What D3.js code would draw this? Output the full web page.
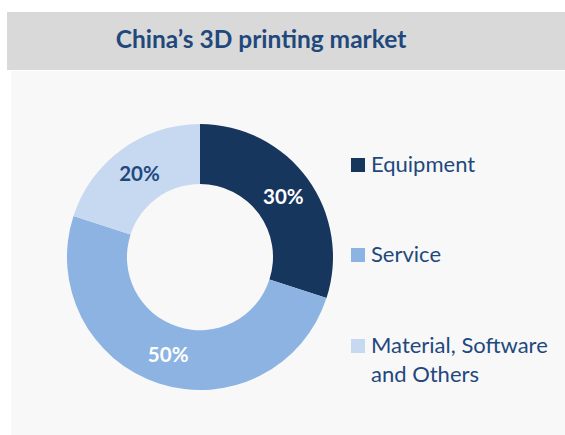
<!DOCTYPE html>
<html>
<head>
<meta charset="utf-8">
<script src="https://cdn.jsdelivr.net/npm/d3@7"></script>
<style>
  body { margin: 0; background: #ffffff; }
  svg text { font-family: Lato, "Open Sans", sans-serif; }
</style>
</head>
<body>
<svg id="chart"></svg>
<script>
var categories = ["Equipment", "Service", "Material, Software and Others"];
var legendLines = [["Equipment"], ["Service"], ["Material, Software", "and Others"]];
var shares = [30, 50, 20];
var colors = ["#17365d", "#8db3e2", "#c6d9f1"];
var labelColors = ["#ffffff", "#ffffff", "#1f497d"];

var screen = { width: 565, height: 435 };

var svg = d3.select("#chart")
  .attr("width", screen.width)
  .attr("height", screen.height);

//title bar
svg.append("rect")
  .attr("x", 7).attr("y", 12)
  .attr("width", screen.width - 7).attr("height", 58)
  .attr("fill", "#d9d9d9");

svg.append("text")
  .text("China\u2019s 3D printing market")
  .attr("x", 261).attr("y", 48)
  .attr("text-anchor", "middle")
  .attr("font-size", 24.5)
  .attr("font-weight", "bold")
  .attr("fill", "#1f497d");

//chart panel
svg.append("rect")
  .attr("x", 11).attr("y", 71)
  .attr("width", screen.width - 11).attr("height", screen.height - 71)
  .attr("fill", "#f8f8f8");

//donut
var center = { x: 200, y: 257 };
var outer = 133, inner = 73;

var pie = d3.pie().sort(null).value(function (d) { return d; });
var arc = d3.arc().innerRadius(inner).outerRadius(outer);

var g = svg.append("g")
  .attr("transform", "translate(" + center.x + "," + center.y + ")");

var slices = pie(shares);

g.selectAll("path")
  .data(slices)
  .enter()
  .append("path")
  .attr("d", arc)
  .attr("fill", function (d, i) { return colors[i]; });

g.selectAll("text")
  .data(slices)
  .enter()
  .append("text")
  .text(function (d) { return d.data + "%"; })
  .attr("transform", function (d) { return "translate(" + arc.centroid(d) + ")"; })
  .attr("dy", "0.35em")
  .attr("text-anchor", "middle")
  .attr("font-size", 20.5)
  .attr("font-weight", "bold")
  .attr("fill", function (d, i) { return labelColors[i]; });

//legend
var legendY = [165, 255, 346];
var legend = svg.append("g");

categories.forEach(function (c, i) {
  legend.append("rect")
    .attr("x", 351).attr("y", legendY[i] - 7)
    .attr("width", 14).attr("height", 14)
    .attr("fill", colors[i]);
  var t = legend.append("text")
    .attr("x", 371).attr("y", legendY[i] + 7)
    .attr("font-size", 22)
    .attr("fill", "#1f497d");
  legendLines[i].forEach(function (line, j) {
    t.append("tspan")
      .attr("x", 371)
      .attr("dy", j === 0 ? 0 : 29)
      .text(line);
  });
});
</script>
</body>
</html>
